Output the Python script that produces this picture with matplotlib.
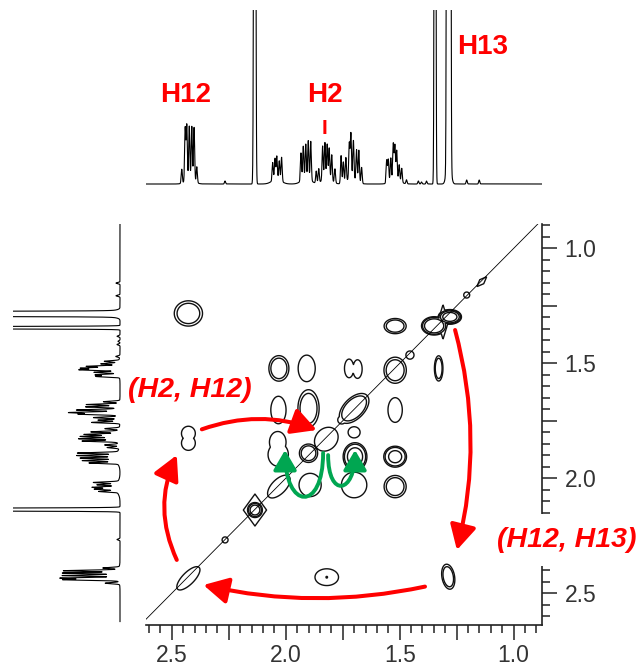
import numpy as np
import matplotlib.pyplot as plt
from matplotlib.ticker import MultipleLocator, FuncFormatter
from matplotlib.patches import FancyArrowPatch
from matplotlib.path import Path

plt.rcParams['font.family'] = ['Liberation Sans', 'DejaVu Sans']

# 1D proton spectrum: line positions (ppm), heights, gaussian widths (ppm)
line_ppm = [2.456, 2.441, 2.434, 2.423, 2.412, 2.402, 2.390, 2.42,
            2.266, 2.136,
            2.057, 2.047, 2.039, 2.028, 2.018, 2.04,
            1.933, 1.923, 1.912, 1.901, 1.890, 1.91,
            1.866, 1.855, 1.838, 1.828, 1.818, 1.809, 1.798, 1.784, 1.82,
            1.757, 1.747, 1.736, 1.721, 1.714, 1.703, 1.689, 1.679, 1.667, 1.71,
            1.557, 1.550, 1.539, 1.528, 1.521, 1.513, 1.502, 1.491, 1.470, 1.52,
            1.418, 1.404, 1.382, 1.345, 1.345, 1.291, 1.279, 1.285, 1.206, 1.151]
line_height = [14, 54, 56, 54, 54, 54, 16, 4,
               3, 1500,
               18, 21, 23, 19, 24, 5,
               28, 33, 34, 38, 39, 6,
               12, 14, 34, 36, 34, 31, 26, 14, 6,
               28, 21, 24, 36, 45, 38, 31, 32, 16, 6,
               23, 23, 23, 36, 34, 29, 16, 14, 4, 5,
               3, 2, 3, 1500, 20, 1500, 1500, 40, 4, 4]
line_width = [0.0025] * len(line_ppm)
for i, p in enumerate(line_ppm):
    if p in (2.42, 2.04, 1.91, 1.82, 1.71, 1.52):
        line_width[i] = 0.02
line_width[line_ppm.index(2.136)] = 0.003
line_width[line_ppm.index(1.285)] = 0.008

# COSY contour peaks: centre (ppm), widths (ppm), amplitude, tilt (deg),
# shape (2 = ellipse, 1 = diamond)
peak_x = [2.427, 1.280, 1.349, 1.310, 1.520, 1.140, 1.206, 1.329,
          2.030, 1.908, 1.722, 1.685, 1.520, 1.455,
          2.032, 1.900, 1.700, 1.520,
          1.822, 1.754, 2.427, 2.427, 2.035, 2.033, 1.700,
          1.900, 1.696, 1.520,
          2.030, 1.893, 1.700, 1.520,
          2.135, 2.135, 2.266, 2.427, 1.820, 1.820, 1.287]
peak_y = [1.283, 1.298, 1.337, 1.320, 1.338, 1.145, 1.203, 1.522,
          1.522, 1.522, 1.522, 1.525, 1.530, 1.464,
          1.703, 1.696, 1.696, 1.703,
          1.830, 1.746, 1.805, 1.847, 1.843, 1.897, 1.800,
          1.891, 1.906, 1.906,
          2.036, 2.029, 2.029, 2.036,
          2.138, 2.138, 2.268, 2.435, 2.430, 2.430, 2.428]
peak_sx = [0.048, 0.032, 0.036, 0.020, 0.0375, 0.030, 0.013, 0.0145,
           0.034, 0.037, 0.020, 0.020, 0.038, 0.0176,
           0.033, 0.036, 0.060, 0.031,
           0.056, 0.0176, 0.030, 0.030, 0.036, 0.044, 0.026,
           0.031, 0.036, 0.035,
           0.062, 0.048, 0.055, 0.0375,
           0.022, 0.044, 0.013, 0.066, 0.051, 0.004, 0.0215]
peak_sy = [0.0426, 0.020, 0.026, 0.065, 0.0256, 0.012, 0.013, 0.0426,
           0.043, 0.057, 0.040, 0.040, 0.044, 0.0176,
           0.059, 0.063, 0.034, 0.053,
           0.046, 0.0176, 0.031, 0.031, 0.046, 0.050, 0.024,
           0.031, 0.042, 0.032,
           0.031, 0.050, 0.055, 0.0375,
           0.022, 0.060, 0.013, 0.026, 0.036, 0.004, 0.0426]
peak_amp = [2.0, 5.0, 4.0, 1.4, 2.0, 1.3, 1.3, 2.0,
            2.0, 1.3, 1.3, 1.3, 2.0, 1.3,
            1.3, 2.0, 2.2, 1.3,
            1.3, 1.3, 1.3, 1.3, 1.3, 1.3, 1.3,
            2.0, 3.0, 2.8,
            1.3, 1.3, 1.3, 2.0,
            5.0, 1.4, 1.3, 1.3, 1.3, 1.8, 2.0]
peak_tilt = [0, 0, 0, 0, 0, 45, 0, 0,
             0, 0, 0, 0, 0, 0,
             0, 0, 45, 0,
             45, 0, 0, 0, 0, 0, 0,
             0, 0, 0,
             45, 0, 0, 0,
             0, 0, 45, 45, 0, 0, 10]
peak_shape = [2, 2, 2, 1, 2, 1, 2, 2,
              2, 2, 2, 2, 2, 2,
              2, 2, 2, 2,
              2, 2, 2, 2, 2, 2, 2,
              2, 2, 2,
              2, 2, 2, 2,
              2, 1, 2, 2, 2, 2, 2]

# red arrows between correlations: start (ppm x, y), end (ppm x, y), curvature
red_arrows = [((1.257, 1.355), (1.249, 2.312), -0.13),
              ((1.389, 2.471), (2.361, 2.464), -0.11),
              ((2.478, 2.355), (2.478, 1.899), -0.23),
              ((2.368, 1.787), (1.864, 1.790), -0.18)]
# green U-shaped arrows: start, end, depth of the bend (ppm)
green_arrows = [((1.836, 1.890), (2.003, 1.877), 0.26),
                ((1.814, 1.899), (1.696, 1.877), 0.19)]

xlo, xhi = 0.877, 2.613
ylo, yhi = 0.894, 2.638


def spectrum(ppm):
    s = np.zeros_like(ppm)
    for p, h, w in zip(line_ppm, line_height, line_width):
        s += h * np.exp(-0.5 * ((ppm - p) / w) ** 2)
    return s


fig = plt.figure(figsize=(6.44, 6.66), dpi=100)
W, H = 644, 666
ax = fig.add_axes([146 / W, 41 / H, 395.7 / W, 401 / H])
ax_top = fig.add_axes([146 / W, (H - 186) / H, 395.7 / W, 176 / H])
ax_left = fig.add_axes([13 / W, 41 / H, 109 / W, 401 / H])

# contour map (each peak a flat-topped blob, overlapping peaks merged by max)
gx = np.linspace(xlo, xhi, 800)
gy = np.linspace(ylo, yhi, 800)
X, Y = np.meshgrid(gx, gy)
Z = np.zeros_like(X)
for cx, cy, sx, sy, a, t, n in zip(peak_x, peak_y, peak_sx, peak_sy, peak_amp,
                                   peak_tilt, peak_shape):
    th = np.radians(t)
    dx, dy = X - cx, Y - cy
    u = dx * np.cos(th) + dy * np.sin(th)
    v = -dx * np.sin(th) + dy * np.cos(th)
    q = np.abs(u / sx) ** n + np.abs(v / sy) ** n
    Z = np.maximum(Z, a * np.exp(-(q / 2) ** 2))
ax.contour(X, Y, Z, levels=[1.0, 1.5, 2.5, 4.0], colors='#111111', linewidths=1.0)
ax.plot([xhi, xlo], [xhi, xlo], color='black', lw=0.6)

ax.set_xlim(xhi, xlo)
ax.set_ylim(yhi, ylo)
for side in ['top', 'left']:
    ax.spines[side].set_visible(False)
for side in ['bottom', 'right']:
    ax.spines[side].set_linewidth(1.2)
    ax.spines[side].set_color('#222222')
ax.yaxis.tick_right()
fmt = FuncFormatter(lambda v, pos: f'{v:.1f}' if abs(v * 2 - round(v * 2)) < 1e-6 else '')
for axis in (ax.xaxis, ax.yaxis):
    axis.set_major_locator(MultipleLocator(0.25))
    axis.set_minor_locator(MultipleLocator(0.05))
    axis.set_major_formatter(fmt)
ax.tick_params(which='major', direction='out', length=10.5, width=1.1, color='#222222',
               labelsize=16.5, labelcolor='#333333')
ax.tick_params(which='minor', direction='out', length=5.8, width=1.1, color='#222222')
ax.tick_params(axis='x', pad=3)
ax.tick_params(axis='y', pad=6)

# projections
ppm = np.linspace(xlo - 0.01, xhi + 0.01, 8000)
sp = spectrum(ppm)
ax_top.plot(ppm, sp, color='black', lw=0.8)
ax_top.set_xlim(xhi, xlo)
ax_top.set_ylim(-2, 174)
ax_top.axis('off')
ax_left.plot(sp, ppm, color='black', lw=0.8)
ax_left.set_ylim(yhi, ylo)
ax_left.set_xlim(107, -2)
ax_left.axis('off')

red = '#ff0000'
green = '#00a651'
ax_top.text(2.441, 89, 'H12', color=red, fontsize=20, fontweight='bold', ha='center', va='center')
ax_top.text(1.828, 89, 'H2', color=red, fontsize=20, fontweight='bold', ha='center', va='center')
ax_top.text(1.828, 55, 'I', color=red, fontsize=15, fontweight='bold', ha='center', va='center')
ax_top.text(1.138, 137, 'H13', color=red, fontsize=20, fontweight='bold', ha='center', va='center')

ax.text(2.42, 1.616, '(H2, H12)', color=red, fontsize=20.5, fontweight='bold',
        style='italic', ha='center', va='center', clip_on=False)
ax.text(0.766, 2.268, '(H12, H13)', color=red, fontsize=20.5, fontweight='bold',
        style='italic', ha='center', va='center', clip_on=False, zorder=5,
        bbox=dict(boxstyle='square,pad=0.45', fc='white', ec='none'))

for (p0, p1, rad) in red_arrows:
    ax.add_patch(FancyArrowPatch(p0, p1, connectionstyle=f'arc3,rad={rad}',
                                 arrowstyle='-|>,head_length=15,head_width=8',
                                 mutation_scale=1, color=red, lw=2.9,
                                 shrinkA=0, shrinkB=0, zorder=6, clip_on=False))
for (p0, p1, depth) in green_arrows:
    verts = [p0, (p0[0], p0[1] + depth), (p1[0], p1[1] + depth), p1]
    codes = [Path.MOVETO, Path.CURVE4, Path.CURVE4, Path.CURVE4]
    ax.add_patch(FancyArrowPatch(path=Path(verts, codes),
                                 arrowstyle='-|>,head_length=12,head_width=7',
                                 mutation_scale=1, color=green, lw=2.8,
                                 zorder=6, clip_on=False))

plt.savefig('out.png', dpi=100)
